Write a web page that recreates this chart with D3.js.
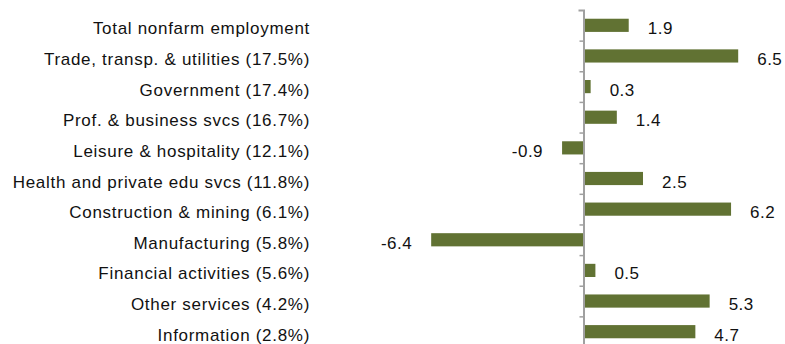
<!DOCTYPE html>
<html>
<head>
<meta charset="utf-8">
<script src="https://cdn.jsdelivr.net/npm/d3@7"></script>
<style>
  body { margin: 0; background: #fff; }
  text { font-family: "Liberation Sans", Arial, Helvetica, sans-serif; fill: #111; }
</style>
</head>
<body>
<div id="chart"></div>
<script>
// data
var categories = [
  "Total nonfarm employment",
  "Trade, transp. & utilities (17.5%)",
  "Government (17.4%)",
  "Prof. & business svcs (16.7%)",
  "Leisure & hospitality (12.1%)",
  "Health and private edu svcs (11.8%)",
  "Construction & mining (6.1%)",
  "Manufacturing (5.8%)",
  "Financial activities (5.6%)",
  "Other services (4.2%)",
  "Information (2.8%)"
];
var values = [1.9, 6.5, 0.3, 1.4, -0.9, 2.5, 6.2, -6.4, 0.5, 5.3, 4.7];

let svgWidth = 785;
let svgHeight = 344;

let svg = d3.select("#chart")
  .append("svg")
  .attr("width", svgWidth)
  .attr("height", svgHeight);

// scales
var xscale = d3.scaleLinear()
  .domain([-10, 8.5])
  .range([345.5, 785.8]);

var yscale = d3.scaleBand()
  .domain(categories)
  .range([10, 347])
  .paddingInner(0.57)
  .paddingOuter(0.285);

// boundary scale for the axis ticks between categories
var tickScale = d3.scaleLinear()
  .domain([0, categories.length])
  .range([10, 347]);

var y_axis = d3.axisLeft(tickScale)
  .tickValues(d3.range(1, categories.length))
  .tickSize(4)
  .tickSizeOuter(5)
  .tickFormat("");

// bars
svg.selectAll("rect.bar")
  .data(values)
  .enter()
  .append("rect")
  .attr("class", "bar")
  .attr("x", (d) => xscale(Math.min(0, d)))
  .attr("y", (d, i) => yscale(categories[i]))
  .attr("width", (d) => Math.abs(xscale(d) - xscale(0)))
  .attr("height", yscale.bandwidth())
  .attr("fill", "#617233");

// axis
let axisG = svg.append("g")
  .attr("transform", "translate(" + xscale(0) + ",0)")
  .call(y_axis);
axisG.select(".domain").attr("stroke", "#a0a0a0").attr("stroke-width", 2);
axisG.selectAll(".tick line").attr("stroke", "#a0a0a0").attr("stroke-width", 1.5);

// category labels
svg.selectAll("text.cat")
  .data(categories)
  .enter()
  .append("text")
  .attr("class", "cat")
  .attr("x", 310)
  .attr("y", (d) => yscale(d) + yscale.bandwidth() / 2)
  .attr("dy", "0.53em")
  .attr("text-anchor", "end")
  .style("font-size", "17px")
  .style("letter-spacing", "0.7px")
  .text((d) => d);

// value labels
svg.selectAll("text.val")
  .data(values)
  .enter()
  .append("text")
  .attr("class", "val")
  .attr("x", (d) => d < 0 ? xscale(d) - 19 : xscale(d) + 19)
  .attr("y", (d, i) => yscale(categories[i]) + yscale.bandwidth() / 2)
  .attr("dy", "0.53em")
  .attr("text-anchor", (d) => d < 0 ? "end" : "start")
  .style("font-size", "17px")
  .style("letter-spacing", "0.5px")
  .text((d) => d.toFixed(1));
</script>
</body>
</html>
